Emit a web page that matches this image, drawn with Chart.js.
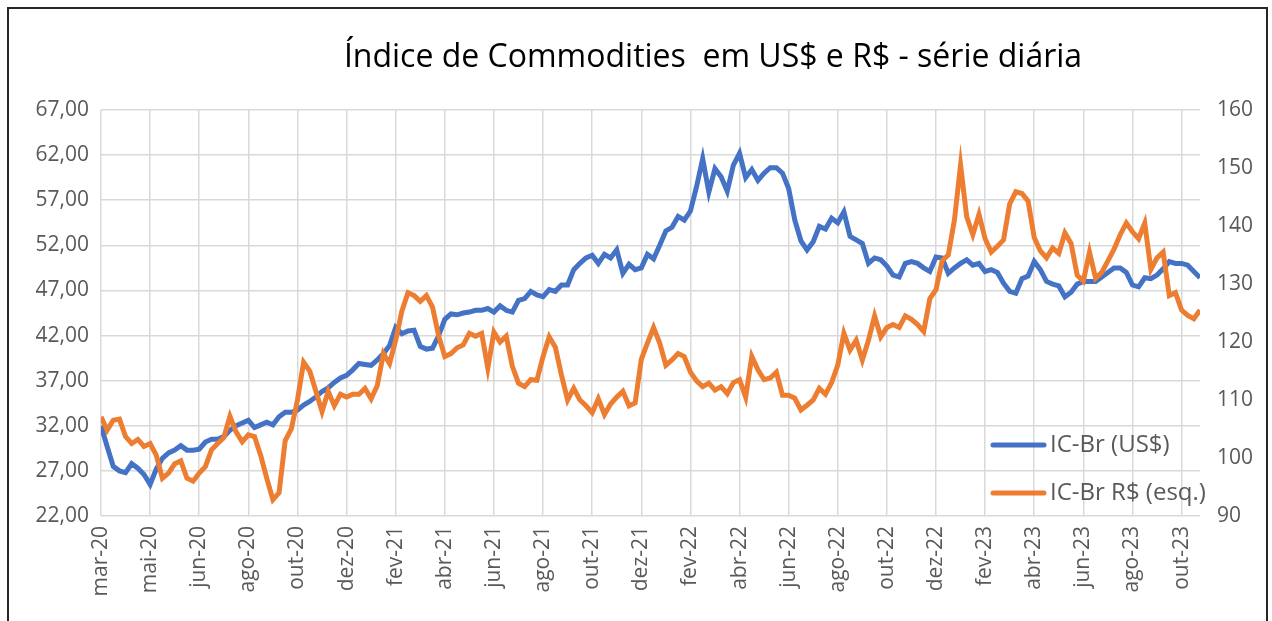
<!DOCTYPE html>
<html lang="pt-BR">
<head>
<meta charset="utf-8">
<title>Índice de Commodities em US$ e R$</title>
<script src="https://cdn.jsdelivr.net/npm/chart.js@4.4.1/dist/chart.umd.min.js"></script>
<style>
    html, body { margin: 0; padding: 0; background: #fff; }
    #wrap { position: relative; width: 1272px; height: 621px; overflow: hidden; }
    #frame { position: absolute; left: 7px; top: 7px; width: 1257px; height: 700px; border: 2px solid #262626; pointer-events: none; }
</style>
</head>
<body>
<div id="wrap">
    <canvas id="chart" width="1272" height="621"></canvas>
    <div id="frame"></div>
</div>
<script>
// tick labels on the category axis (one every 2 months)
const xLabels = ['mar-20', 'mai-20', 'jun-20', 'ago-20', 'out-20', 'dez-20', 'fev-21', 'abr-21',
    'jun-21', 'ago-21', 'out-21', 'dez-21', 'fev-22', 'abr-22', 'jun-22', 'ago-22', 'out-22',
    'dez-22', 'fev-23', 'abr-23', 'jun-23', 'ago-23', 'out-23'];

// values, 8 readings between two axis labels
const samplesPerLabel = 8;

const icBrUsd = [
    32.0, 29.7, 27.5, 27.0, 26.8, 27.8, 27.3, 26.6, 25.5, 27.2, 28.4, 29.0, 29.3, 29.8, 29.3, 29.3,
    29.4, 30.2, 30.5, 30.5, 30.8, 31.5, 32.0, 32.3, 32.6, 31.8, 32.1, 32.4, 32.1, 33.0, 33.5, 33.5,
    33.75, 34.3, 34.7, 35.2, 35.8, 36.2, 36.8, 37.3, 37.6, 38.2, 38.9, 38.8, 38.7, 39.3, 40.0, 40.9,
    42.9, 42.2, 42.5, 42.6, 40.8, 40.5, 40.6, 42.0, 43.8, 44.4, 44.3, 44.5, 44.6, 44.8, 44.8, 45.0,
    44.6, 45.3, 44.8, 44.6, 45.9, 46.1, 46.9, 46.5, 46.3, 47.1, 46.9, 47.6, 47.6, 49.3, 50.0, 50.6,
    50.9, 50.0, 51.0, 50.6, 51.5, 48.9, 49.9, 49.3, 49.5, 51.0, 50.5, 52.0, 53.6, 54.0, 55.2, 54.8,
    55.8, 58.5, 61.6, 57.9, 60.5, 59.6, 58.0, 60.9, 62.2, 59.5, 60.4, 59.2, 60.0, 60.6, 60.6, 60.0,
    58.3, 54.8, 52.5, 51.5, 52.4, 54.1, 53.8, 55.0, 54.5, 55.7, 53.0, 52.6, 52.2, 50.0, 50.6, 50.4,
    49.7, 48.7, 48.5, 50.0, 50.2, 50.0, 49.5, 49.1, 50.7, 50.6, 48.9, 49.5, 50.0, 50.4, 49.8, 50.0,
    49.1, 49.3, 49.0, 47.8, 46.9, 46.7, 48.3, 48.6, 50.2, 49.3, 48.0, 47.7, 47.5, 46.3, 46.8, 47.7,
    48.0, 48.0, 48.0, 48.5, 49.0, 49.5, 49.5, 49.0, 47.6, 47.4, 48.4, 48.3, 48.7, 49.4, 50.2, 50.0,
    50.0, 49.8, 49.1, 48.4
];

const icBrBrl = [
    107.1, 104.8, 106.5, 106.7, 103.7, 102.5, 103.2, 102.0, 102.5, 100.5, 96.5, 97.4, 99.0, 99.5, 96.5, 96.0,
    97.4, 98.5, 101.4, 102.5, 103.5, 107.2, 104.5, 102.8, 104.0, 103.7, 100.5, 96.5, 92.8, 94.0, 103.0, 105.0,
    110.0, 116.5, 115.0, 111.5, 108.0, 111.5, 109.0, 111.0, 110.5, 111.0, 111.0, 112.0, 110.2, 112.5, 118.0, 116.3,
    120.3, 125.3, 128.5, 128.0, 127.0, 128.0, 126.0, 121.0, 117.5, 118.0, 119.0, 119.5, 121.5, 121.0, 121.5, 115.5,
    121.7, 120.0, 121.0, 115.8, 112.9, 112.3, 113.5, 113.4, 117.5, 120.9, 119.1, 114.3, 110.0, 112.0, 110.0, 109.0,
    107.8, 110.2, 107.5, 109.3, 110.5, 111.5, 109.0, 109.5, 117.0, 119.8, 122.5, 119.8, 116.0, 116.9, 118.0, 117.5,
    114.8, 113.3, 112.3, 112.9, 111.7, 112.3, 111.1, 113.0, 113.5, 110.5, 117.5, 115.2, 113.5, 113.8, 114.8, 110.8,
    110.8, 110.3, 108.3, 109.1, 110.0, 112.0, 111.0, 113.0, 116.0, 121.5, 118.6, 120.3, 116.9, 120.3, 124.5, 120.9,
    122.5, 123.0, 122.5, 124.5, 123.9, 123.0, 121.8, 127.5, 129.0, 134.0, 135.0, 141.0, 150.5, 141.6, 138.5, 142.0,
    137.8, 135.5, 136.5, 137.6, 143.8, 145.9, 145.6, 144.3, 138.0, 135.7, 134.5, 136.2, 135.3, 138.8, 137.0, 131.5,
    130.5, 135.5, 131.0, 132.0, 134.0, 136.0, 138.5, 140.5, 139.0, 137.8, 140.5, 132.5, 134.5, 135.5, 128.0, 128.5,
    125.5, 124.6, 124.0, 125.5
];

const leftAxis = { min: 22, max: 67, step: 5 };
const rightAxis = { min: 90, max: 160, step: 10 };

const BLUE = '#4472C4';
const ORANGE = '#ED7D31';
const GRID = '#D9D9D9';
const TEXT = '#595959';
const FONT = '"Open Sans", "Liberation Sans", sans-serif';

const toPoints = (arr) => arr.map((v, i) => ({ x: i / samplesPerLabel, y: v }));

// title is drawn by hand so it can sit right of centre like the original
const titlePlugin = {
    id: 'excelTitle',
    afterDraw: (chart) => {
        const ctx = chart.ctx;
        ctx.save();
        ctx.font = '32px ' + FONT;
        ctx.fillStyle = '#000';
        ctx.textAlign = 'center';
        ctx.textBaseline = 'middle';
        ctx.fillText('Índice de Commodities  em US$ e R$ - série diária', 713, 58);
        ctx.restore();
    }
};

// legend sits inside the plot, bottom right
const legendPlugin = {
    id: 'innerLegend',
    afterDatasetsDraw: (chart) => {
        const ctx = chart.ctx;
        const rows = [445, 493];
        ctx.save();
        chart.data.datasets.forEach((ds, i) => {
            const y = rows[i];
            ctx.strokeStyle = ds.borderColor;
            ctx.lineWidth = 5;
            ctx.lineCap = 'round';
            ctx.beginPath();
            ctx.moveTo(993, y);
            ctx.lineTo(1044, y);
            ctx.stroke();
            ctx.font = '24px ' + FONT;
            ctx.fillStyle = TEXT;
            ctx.textAlign = 'left';
            ctx.textBaseline = 'middle';
            ctx.fillText(ds.label, 1050, y);
        });
        ctx.restore();
    }
};

const ctx = document.getElementById('chart');

new Chart(ctx, {
    type: 'line',
    data: {
        datasets: [
            {
                label: 'IC-Br (US$)',
                data: toPoints(icBrUsd),
                yAxisID: 'y',
                borderColor: BLUE,
                borderWidth: 5,
                pointRadius: 0,
                tension: 0,
                order: 1
            },
            {
                label: 'IC-Br R$ (esq.)',
                data: toPoints(icBrBrl),
                yAxisID: 'y1',
                borderColor: ORANGE,
                borderWidth: 5,
                pointRadius: 0,
                tension: 0,
                order: 0
            }
        ]
    },
    options: {
        responsive: false,
        animation: false,
        layout: { padding: { top: 110, left: 0, right: 0, bottom: 0 } },
        plugins: {
            legend: { display: false },
            tooltip: { enabled: false }
        },
        scales: {
            x: {
                type: 'linear',
                min: 0,
                max: (icBrUsd.length - 1) / samplesPerLabel,
                afterBuildTicks: (scale) => {
                    scale.ticks = xLabels.map((_, k) => ({ value: k }));
                },
                afterFit: (scale) => { scale.height = 105; },
                grid: { color: GRID, lineWidth: 1.5, drawTicks: false },
                border: { display: false },
                ticks: {
                    autoSkip: false,
                    minRotation: 90,
                    maxRotation: 90,
                    padding: 10,
                    color: TEXT,
                    font: { family: FONT, size: 21 },
                    callback: (value) => xLabels[value] ?? ''
                }
            },
            y: {
                position: 'left',
                min: leftAxis.min,
                max: leftAxis.max,
                afterFit: (scale) => { scale.width = 101; },
                grid: { color: GRID, lineWidth: 1.5, drawTicks: false },
                border: { display: false },
                ticks: {
                    stepSize: leftAxis.step,
                    padding: 12,
                    color: TEXT,
                    font: { family: FONT, size: 21 },
                    callback: (v) => v.toFixed(2).replace('.', ',')
                }
            },
            y1: {
                position: 'right',
                min: rightAxis.min,
                max: rightAxis.max,
                afterFit: (scale) => { scale.width = 72; },
                grid: { drawOnChartArea: false, drawTicks: false },
                border: { display: false },
                ticks: {
                    stepSize: rightAxis.step,
                    padding: 17,
                    color: TEXT,
                    font: { family: FONT, size: 21 }
                }
            }
        }
    },
    plugins: [titlePlugin, legendPlugin]
});
</script>
</body>
</html>
